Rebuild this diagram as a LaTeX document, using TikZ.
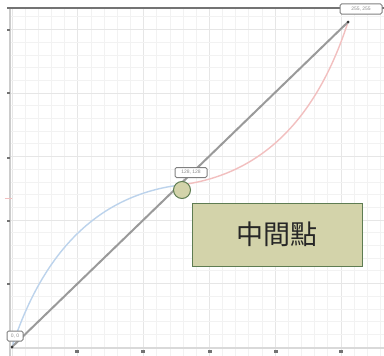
\documentclass[tikz,border=0pt]{standalone}
\usepackage{fontspec}
\setmainfont{Liberation Sans}
\newfontfamily\cjk{Noto Sans CJK TC}
\definecolor{minorgrid}{HTML}{F2F2F2}
\definecolor{majorgrid}{HTML}{E6E6E6}
\definecolor{diag}{HTML}{9A9A9A}
\definecolor{bluec}{HTML}{BCD3EC}
\definecolor{redc}{HTML}{F2BFBF}
\definecolor{olivefill}{HTML}{D3D3AA}
\definecolor{olivedraw}{HTML}{5E7C52}
\begin{document}
\begin{tikzpicture}[x=1pt,y=-1pt,
  ptlabel/.style={draw=black!50, fill=white, rounded corners=1.5pt, line width=1pt,
    font=\fontsize{5}{5}\selectfont, text=black!45, inner sep=1.5pt, minimum height=10pt},
  dot/.style={circle, fill=black!80, inner sep=0pt, minimum size=3pt},
  tickmark/.style={fill=black!55},
  curveline/.style={line width=1.4pt}]
\useasboundingbox (0,0) rectangle (384,356);
\fill[white] (0,0) rectangle (384,356);
% grid
\foreach \i in {0,...,28} {
  \pgfmathsetmacro{\gx}{12+\i*13.16}
  \pgfmathtruncatemacro{\m}{mod(\i,5)}
  \ifnum\m=0
    \draw[majorgrid, line width=0.9pt] (\gx,8) -- (\gx,356);
  \else
    \draw[minorgrid, line width=0.8pt] (\gx,8) -- (\gx,356);
  \fi
}
\foreach \j in {0,...,26} {
  \pgfmathsetmacro{\gy}{347-\j*12.7}
  \pgfmathtruncatemacro{\m}{mod(\j,5)}
  \ifnum\m=0
    \draw[majorgrid, line width=0.9pt] (10,\gy) -- (384,\gy);
  \else
    \draw[minorgrid, line width=0.8pt] (10,\gy) -- (384,\gy);
  \fi
}
% axes
\draw[black!20, line width=2pt] (10,8) -- (10,356);
\draw[black!15, line width=1.5pt] (10,348) -- (384,348);
\draw[black!55, line width=1.8pt] (7,8) -- (384,8);
\foreach \ty in {30,93,158,221,284} \fill[tickmark] (7,\ty-1) rectangle (10,\ty+1);
\foreach \tx in {77,143,210,276,341} \fill[tickmark] (\tx-2,350) rectangle (\tx+2,353);
\draw[redc, line width=1pt] (5,198) -- (12,198);
% points
\coordinate (p0) at (12,347);
\coordinate (pm) at (180,185);
\coordinate (p1) at (348,22);
% curves
\draw[bluec, curveline] (p0) .. controls (44,249) and (100,195) .. (pm);
\draw[redc, curveline] (pm) .. controls (260,175) and (316,121) .. (p1);
% diagonal
\draw[diag, line width=2pt] (p0) -- (p1);
\node[dot] (d0) at (p0) {};
\node[dot] (d1) at (p1) {};
% labels
\node[ptlabel, minimum width=16pt] (l0) at (15,336) {0, 0};
\node[ptlabel, minimum width=32pt] (lm) at (191,172.5) {128, 128};
\node[ptlabel, minimum width=42pt] (l1) at (361,9) {255, 255};
% midpoint marker
\node[circle, fill=olivefill, draw=olivedraw, line width=1pt, minimum size=17pt, inner sep=0pt] (mid) at (182,190) {};
% big box
\node[rectangle, fill=olivefill, draw=olivedraw, line width=1pt, minimum width=170pt, minimum height=63pt, inner sep=0pt,
  font=\cjk\fontsize{27}{27}\selectfont, text=black!85] (box) at (277,234.5) {中間點};
\end{tikzpicture}
\end{document}
